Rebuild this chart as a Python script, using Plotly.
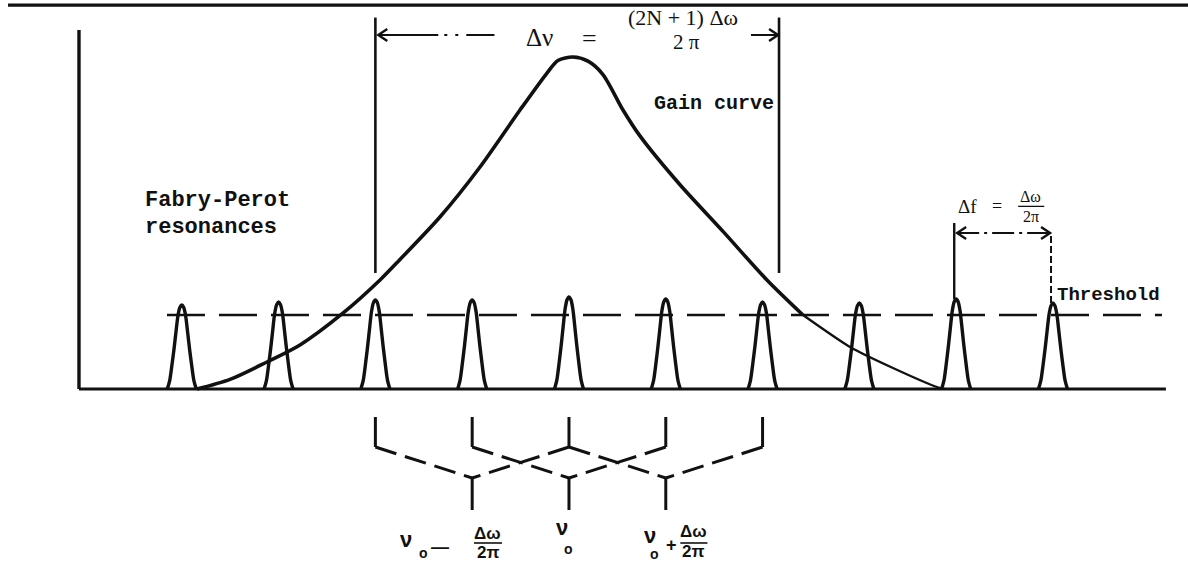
import plotly.graph_objects as go

# ---- data (frequency in units of the mode spacing, height in units of threshold) ----
MODE_INDEX = [-4, -3, -2, -1, 0, 1, 2, 3, 4, 5]
RESONANCE_HEIGHT = [1.135, 1.176, 1.203, 1.203, 1.243, 1.216, 1.176, 1.162, 1.216, 1.162]

# single Fabry-Perot resonance line profile (offset from line centre, relative height)
PROFILE_OFFSET = [-0.150, -0.125, -0.100, -0.080, -0.060, -0.040, -0.020, 0.0,
                  0.020, 0.040, 0.060, 0.080, 0.100, 0.125, 0.150]
PROFILE_SHAPE = [0.0, 0.10, 0.30, 0.48, 0.68, 0.87, 0.97, 1.0,
                 0.97, 0.87, 0.68, 0.48, 0.30, 0.10, 0.0]

# gain curve
GAIN_X = [-3.843, -3.502, -3.120, -2.779, -2.345, -1.952, -1.746, -1.333, -0.919,
          -0.506, -0.227, -0.114, 0.041, 0.196, 0.351, 0.558, 0.733, 1.147, 1.591,
          2.045, 2.417]
GAIN_Y = [0.0, 0.13, 0.365, 0.595, 1.014, 1.473, 1.750, 2.324, 3.000,
          3.770, 4.270, 4.440, 4.486, 4.430, 4.250, 3.770, 3.420, 2.760, 2.130,
          1.473, 1.0]
GAIN_TAIL_X = [2.417, 2.903, 3.347, 3.802, 3.884]
GAIN_TAIL_Y = [1.0, 0.568, 0.284, 0.027, 0.0]

THRESHOLD = 1.0
LOCKED_MODES = [-2, -1, 0, 1, 2]       # modes above threshold under the gain curve
BEAT_CENTRES = [-1, 0, 1]               # nu0 - dw/2pi, nu0, nu0 + dw/2pi
BANDWIDTH_EDGES = [-2.0, 2.17]          # edges of the delta-nu bracket
SPACING_MODES = [4, 5]                  # modes used to mark delta-f

INK = "#111111"
PX_X = 96.8   # pixels per mode spacing
PX_Y = 74.0   # pixels per threshold unit

X_RANGE = [-5.878, 6.395]
Y_RANGE = [-2.392, 5.257]

fig = go.Figure()


def line(xs, ys, width=3.0, dash="solid", shape="linear", smoothing=0.7):
    ln = dict(color=INK, width=width, dash=dash, shape=shape)
    if shape == "spline":
        ln["smoothing"] = smoothing
    fig.add_trace(go.Scatter(x=xs, y=ys, mode="lines", hoverinfo="skip", line=ln))


def chevron(x_tip, y, direction):
    dx = 9 / PX_X * direction
    dy = 6 / PX_Y
    line([x_tip - dx, x_tip, x_tip - dx], [y + dy, y, y - dy], width=2.4)


# frame: top rule, vertical axis, baseline
line([-5.795, X_RANGE[1]], [5.189, 5.189], width=3.2)
line([-5.062, -5.062], [0.0, 4.851], width=3.4)
line([-5.062, 6.167], [0.0, 0.0], width=3.2)

# threshold
line([-4.153, 6.126], [THRESHOLD, THRESHOLD], width=2.6, dash="38px,14px")

# gain curve
line(GAIN_X, GAIN_Y, width=3.6, shape="spline", smoothing=0.8)
line(GAIN_TAIL_X, GAIN_TAIL_Y, width=2.3, shape="spline", smoothing=0.6)

# Fabry-Perot resonances
for m, h in zip(MODE_INDEX, RESONANCE_HEIGHT):
    line([m + o for o in PROFILE_OFFSET], [h * s for s in PROFILE_SHAPE],
         width=3.4, shape="spline", smoothing=0.8)

# delta-nu bracket
for xe in BANDWIDTH_EDGES:
    line([xe, xe], [1.568, 5.02], width=2.6)
y_dn = 4.784
line([BANDWIDTH_EDGES[0] + 0.03, -0.77], [y_dn, y_dn], width=2.0, dash="60px,6px,3px,8px,3px,8px")
chevron(BANDWIDTH_EDGES[0] + 0.03, y_dn, -1)
line([1.88, BANDWIDTH_EDGES[1] - 0.01], [y_dn, y_dn], width=2.0)
chevron(BANDWIDTH_EDGES[1] - 0.01, y_dn, 1)

# delta-f bracket
m_a, m_b = SPACING_MODES
h_a = RESONANCE_HEIGHT[MODE_INDEX.index(m_a)]
h_b = RESONANCE_HEIGHT[MODE_INDEX.index(m_b)]
y_df = 2.108
line([m_a - 0.02, m_a - 0.02], [h_a, 2.243], width=2.4)
line([m_b - 0.02, m_b - 0.02], [h_b, y_df], width=2.0, dash="7px,3px")
line([m_a + 0.01, m_b - 0.03], [y_df, y_df], width=1.8, dash="22px,5px,3px,5px")
chevron(m_a + 0.01, y_df, -1)
chevron(m_b - 0.03, y_df, 1)

# mode-beating construction below the axis
y_top, y_bot, y_join, y_stem = -0.378, -0.784, -1.203, -1.635
for m in LOCKED_MODES:
    line([m, m], [y_top, y_bot], width=3.0)
for c in BEAT_CENTRES:
    line([c - 1, c], [y_bot, y_join], width=3.0, dash="22px,9px")
    line([c + 1, c], [y_bot, y_join], width=3.0, dash="22px,9px")
    line([c, c], [y_join, y_stem], width=3.0)

# ---- text ----
MONO = "Liberation Mono"
SERIF = "Liberation Serif"
SANS = "Liberation Sans"
ann = []


def text(x, y, s, size, family, xanchor="center", bold=False):
    if bold:
        s = "<b>" + s + "</b>"
    ann.append(dict(x=x, y=y, xref="x", yref="y", text=s, showarrow=False,
                    xanchor=xanchor, yanchor="middle",
                    font=dict(family=family, size=size, color=INK)))


def frac_bar(x0, x1, y, width=1.6):
    line([x0, x1], [y, y], width=width)


text(-4.401, 2.554, "Fabry-Perot", 22, MONO, xanchor="left", bold=True)
text(-4.401, 2.176, "resonances", 22, MONO, xanchor="left", bold=True)
text(0.857, 3.865, "Gain curve", 20, MONO, xanchor="left", bold=True)
text(5.020, 1.270, "Threshold", 19, MONO, xanchor="left", bold=True)

# delta-nu = (2N+1) dw / 2pi
text(-0.300, 4.757, "Δν", 25, SERIF)
text(0.217, 4.743, "=", 26, SERIF)
text(1.180, 5.027, "(2N + 1) Δω", 22, SERIF)
text(1.209, 4.689, "2 π", 21, SERIF)

# delta-f = dw / 2pi
text(4.120, 2.470, "Δf", 19, SERIF)
text(4.420, 2.470, "=", 18, SERIF)
text(4.773, 2.600, "Δω", 16, SERIF)
frac_bar(4.640, 4.910, 2.468, width=1.3)
text(4.773, 2.330, "2π", 16, SERIF)

# nu0 - dw/2pi
text(-1.684, -2.030, "ν", 22, SANS, bold=True)
text(-1.508, -2.216, "o", 14, SANS, bold=True)
text(-1.330, -2.135, "—", 18, SANS, bold=True)
text(-0.837, -1.946, "Δω", 17, SANS, bold=True)
frac_bar(-0.981, -0.692, -2.081)
text(-0.837, -2.210, "2π", 17, SANS, bold=True)

# nu0
text(-0.072, -1.865, "ν", 22, SANS, bold=True)
text(-0.010, -2.162, "o", 14, SANS, bold=True)

# nu0 + dw/2pi
text(0.840, -1.986, "ν", 22, SANS, bold=True)
text(0.885, -2.235, "o", 14, SANS, bold=True)
text(1.060, -2.108, "+", 18, SANS, bold=True)
text(1.285, -1.932, "Δω", 17, SANS, bold=True)
frac_bar(1.150, 1.430, -2.081)
text(1.285, -2.196, "2π", 17, SANS, bold=True)

fig.update_layout(
    width=1188, height=566, autosize=False,
    margin=dict(l=0, r=0, t=0, b=0, pad=0),
    paper_bgcolor="white", plot_bgcolor="white",
    showlegend=False, annotations=ann,
    xaxis=dict(range=X_RANGE, visible=False, fixedrange=True),
    yaxis=dict(range=Y_RANGE, visible=False, fixedrange=True),
)

fig.write_html("out.html", config={"displayModeBar": False})
